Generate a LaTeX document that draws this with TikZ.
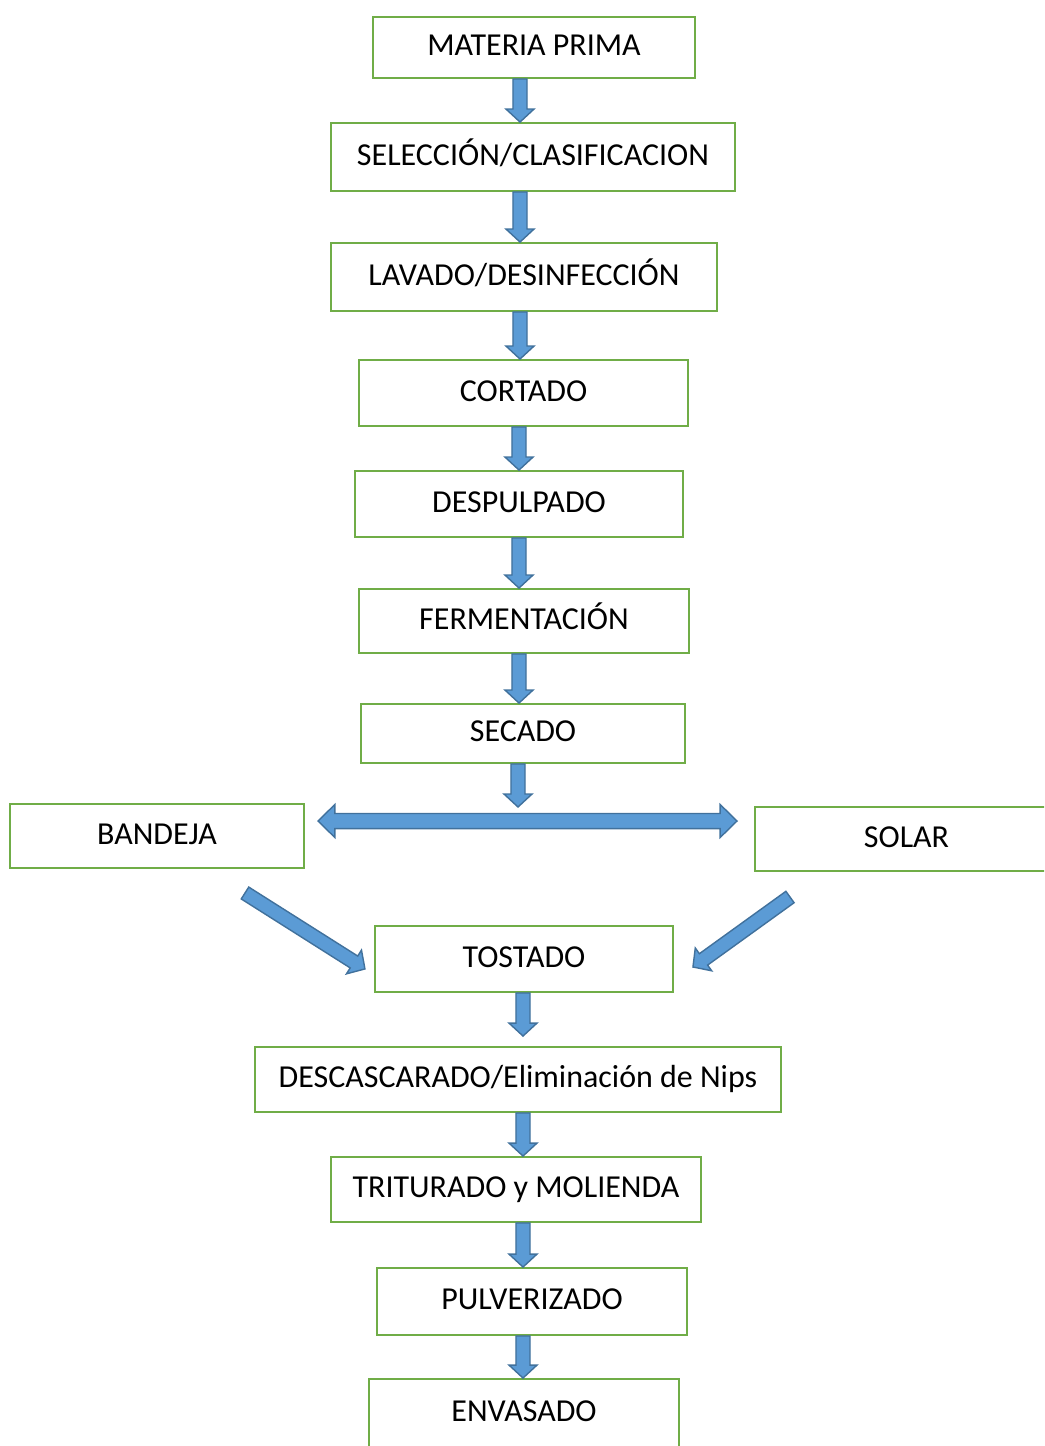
\documentclass[tikz,border=0pt]{standalone}
\usepackage{fontspec}
\setmainfont{Carlito}
\usetikzlibrary{calc}
\definecolor{boxgreen}{HTML}{70AD47}
\definecolor{arrowfill}{HTML}{5B9BD5}
\definecolor{arrowedge}{HTML}{41719C}
\begin{document}
\begin{tikzpicture}[x=0.02cm,y=-0.02cm,
    step box/.style={draw=boxgreen,line width=1.1pt,inner sep=0pt,
        text height=1.1em,text depth=0.18em,font=\fontsize{18.2}{21}\selectfont},
    block arrow/.style={draw=arrowedge,fill=arrowfill,line width=0.8pt,line join=miter,
        to path={let \p1=(\tikztostart), \p2=(\tikztotarget),
            \n1={veclen(\x2-\x1,\y2-\y1)}, \n2={atan2(\y2-\y1,\x2-\x1)} in
            {[shift={(\p1)},rotate=\n2]
            (0pt,-4pt) -- ({\n1-7.4pt},-4pt) -- ({\n1-7.4pt},-8pt) -- (\n1,0pt)
            -- ({\n1-7.4pt},8pt) -- ({\n1-7.4pt},4pt) -- (0pt,4pt) -- cycle}}},
    double block arrow/.style={draw=arrowedge,fill=arrowfill,line width=0.8pt,line join=miter,
        to path={let \p1=(\tikztostart), \p2=(\tikztotarget),
            \n1={veclen(\x2-\x1,\y2-\y1)}, \n2={atan2(\y2-\y1,\x2-\x1)} in
            {[shift={(\p1)},rotate=\n2]
            (0pt,0pt) -- (9.6pt,-9.4pt) -- (9.6pt,-4.3pt) -- ({\n1-9.6pt},-4.3pt) -- ({\n1-9.6pt},-9.4pt)
            -- (\n1,0pt) -- ({\n1-9.6pt},9.4pt) -- ({\n1-9.6pt},4.3pt) -- (9.6pt,4.3pt) -- (9.6pt,9.4pt) -- cycle}}}]
    \useasboundingbox (0,0) rectangle (1044,1446);
    \clip (0,0) rectangle (1044,1446);

    % process steps
    \node[step box,minimum width=6.44cm,minimum height=1.22cm] at (534,47.5) (mat) {MATERIA PRIMA};
    \node[step box,minimum width=8.08cm,minimum height=1.36cm] at (533,157) (sel) {SELECCIÓN/CLASIFICACION};
    \node[step box,minimum width=7.72cm,minimum height=1.36cm] at (524,277) (lav) {LAVADO/DESINFECCIÓN};
    \node[step box,minimum width=6.58cm,minimum height=1.32cm] at (523.5,393) (cort) {CORTADO};
    \node[step box,minimum width=6.56cm,minimum height=1.32cm] at (519,504) (desp) {DESPULPADO};
    \node[step box,minimum width=6.60cm,minimum height=1.28cm] at (524,621) (ferm) {FERMENTACIÓN};
    \node[step box,minimum width=6.48cm,minimum height=1.18cm] at (523,733.5) (sec) {SECADO};
    \node[step box,minimum width=5.88cm,minimum height=1.28cm] at (157,836) (band) {BANDEJA};
    \node[step box,minimum width=6.06cm,minimum height=1.28cm] at (906.5,839) (sol) {SOLAR};
    \node[step box,minimum width=5.96cm,minimum height=1.32cm] at (524,959) (tost) {TOSTADO};
    \node[step box,minimum width=10.52cm,minimum height=1.30cm] at (518,1079.5) (desc) {DESCASCARADO/Eliminación de Nips};
    \node[step box,minimum width=7.40cm,minimum height=1.30cm] at (516,1189.5) (trit) {TRITURADO y MOLIENDA};
    \node[step box,minimum width=6.20cm,minimum height=1.34cm] at (532,1301.5) (pulv) {PULVERIZADO};
    \node[step box,minimum width=6.20cm,minimum height=1.38cm] at (524,1413.5) (env) {ENVASADO};

    % arrow columns and free ends
    \coordinate (colA) at (520,0);
    \coordinate (colB) at (519,0);
    \coordinate (colC) at (523,0);
    \coordinate (fork) at (518,807);
    \coordinate (forkL) at (318,821);
    \coordinate (forkR) at (737,821);
    \coordinate (bandOut) at (245,893);
    \coordinate (solOut) at (790,897);

    \draw[block arrow] (mat.south -| colA) to (sel.north -| colA);
    \draw[block arrow] (sel.south -| colA) to (lav.north -| colA);
    \draw[block arrow] (lav.south -| colA) to (cort.north -| colA);
    \draw[block arrow] (cort.south -| colB) to (desp.north -| colB);
    \draw[block arrow] (desp.south -| colB) to (ferm.north -| colB);
    \draw[block arrow] (ferm.south -| colB) to (sec.north -| colB);
    \draw[block arrow] (sec.south -| fork) to (fork);
    \draw[double block arrow] (forkL) to (forkR);
    \draw[block arrow] (bandOut) to ($(tost.west)+(-9,10)$);
    \draw[block arrow] (solOut) to ($(tost.east)+(19,8)$);
    \draw[block arrow] (tost.south -| colC) to ($(desc.north -| colC)+(0,-10)$);
    \draw[block arrow] (desc.south -| colC) to (trit.north -| colC);
    \draw[block arrow] (trit.south -| colC) to (pulv.north -| colC);
    \draw[block arrow] (pulv.south -| colC) to (env.north -| colC);
\end{tikzpicture}
\end{document}
